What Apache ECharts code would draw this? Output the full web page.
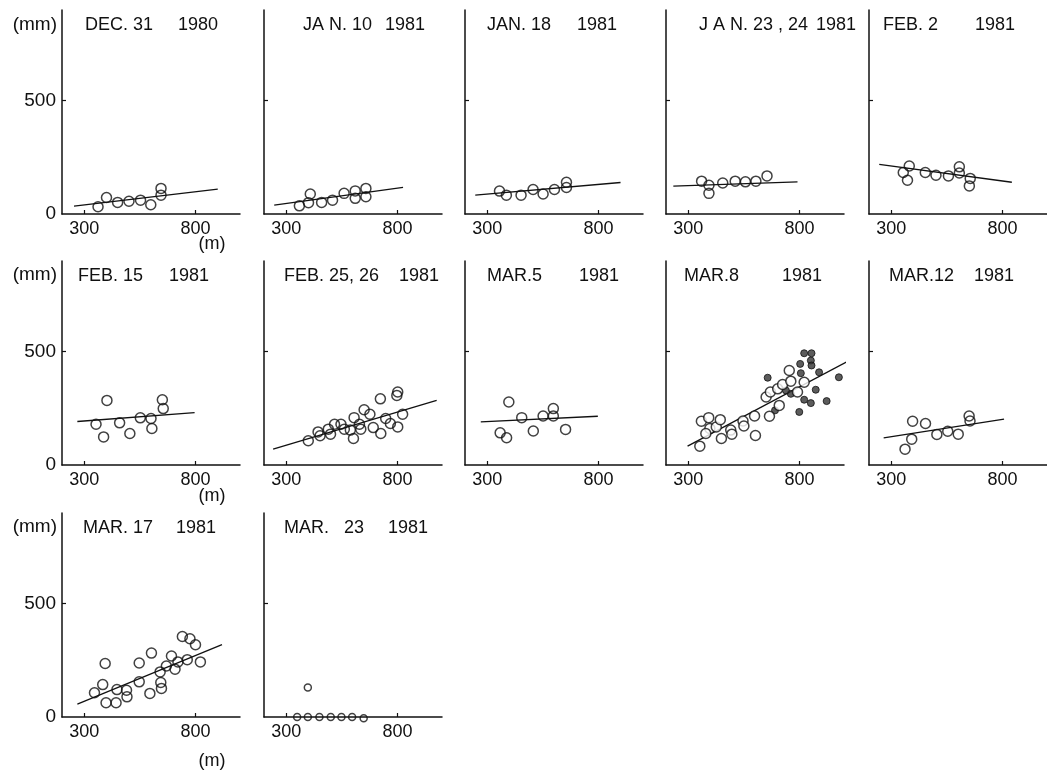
<!DOCTYPE html>
<html>
<head>
<meta charset="utf-8">
<script src="https://cdn.jsdelivr.net/npm/echarts@6/dist/echarts.min.js"></script>
<style>
  html, body { margin: 0; padding: 0; background: #fff; }
  #chart { width: 1047px; height: 771px; }
</style>
</head>
<body>
<div id="chart"></div>
<script>
// Snow depth (mm) against altitude (m), one panel per survey date.
const panelDates = ['DEC. 31', 'JA N. 10', 'JAN. 18', 'J A N. 23 , 24', 'FEB. 2',
                    'FEB. 15', 'FEB. 25, 26', 'MAR.5', 'MAR.8', 'MAR.12',
                    'MAR. 17', 'MAR.   23'];
const panelYears = ['1980', '1981', '1981', '1981', '1981',
                    '1981', '1981', '1981', '1981', '1981',
                    '1981', '1981'];
const xTickValues = [300, 800];
const yTickValues = [0, 500];
const yTickMarks = [500];

// observations: [altitude m, depth mm]
const obsDec31 = [[362,32],[400,73],[450,51],[501,56],[553,61],[599,41],[645,83],[645,113]];
const obsJan10 = [[359,36],[400,50],[408,88],[459,51],[508,61],[560,91],[610,69],[610,102],[658,76],[658,113]];
const obsJan18 = [[355,101],[386,83],[452,83],[506,108],[551,88],[602,108],[656,117],[656,140]];
const obsJan23 = [[360,145],[393,127],[393,91],[455,137],[511,145],[557,142],[604,145],[654,168]];
const obsFeb2  = [[354,183],[381,212],[373,149],[453,183],[501,171],[557,168],[606,208],[606,181],[655,157],[651,124]];
const obsFeb15 = [[353,180],[402,285],[387,124],[459,186],[505,139],[552,208],[600,205],[604,161],[651,288],[655,249]];
const obsFeb25 = [[399,107],[443,146],[452,129],[489,158],[499,136],[517,180],[546,180],[561,158],[588,154],
                  [602,117],[605,209],[629,180],[635,158],[650,244],[676,224],[691,165],[723,292],[725,139],
                  [747,205],[768,183],[797,307],[801,322],[801,168],[823,224]];
const obsMar5  = [[397,278],[358,142],[387,120],[455,209],[507,150],[551,216],[597,249],[597,216],[652,157]];
const obsMar8  = [[352,83],[359,193],[392,209],[397,161],[379,139],[426,168],[444,200],[449,117],[491,154],
                  [496,136],[546,194],[550,172],[598,216],[602,130],[650,300],[665,215],[669,322],[709,263],
                  [702,336],[724,355],[754,417],[761,370],[791,322],[821,365]];
const obsMar8Dark = [[657,385],[690,241],[803,446],[821,493],[854,493],[851,461],[854,439],[888,409],[806,405],
                     [873,332],[851,273],[799,234],[922,282],[977,387],[761,314],[821,288],[739,329]];
const obsMar12 = [[362,70],[392,114],[396,193],[454,183],[505,135],[554,149],[601,136],[650,216],[654,194]];
const obsMar17 = [[346,107],[383,143],[394,236],[398,63],[443,63],[447,121],[490,118],[492,89],[547,155],
                  [547,238],[595,104],[602,282],[641,199],[644,152],[647,126],[669,225],[692,269],[708,211],
                  [721,243],[741,355],[763,253],[775,345],[800,319],[822,243]];
const obsMar23 = [[397,130],[349,0],[397,0],[449,0],[500,0],[548,0],[596,0],[648,-5]];

// fitted regression lines: end points [altitude m, depth mm]
const fitDec31 = [[254,35],[900,110]];
const fitJan10 = [[246,39],[825,117]];
const fitJan18 = [[246,83],[899,139]];
const fitJan23 = [[233,123],[791,142]];
const fitFeb2  = [[246,219],[842,140]];
const fitFeb15 = [[269,192],[796,231]];
const fitFeb25 = [[241,70],[976,285]];
const fitMar5  = [[271,190],[797,215]];
const fitMar8  = [[297,83],[1056,478]];
const fitMar12 = [[266,120],[807,202]];
const fitMar17 = [[269,57],[919,319]];

const panels = [
  { obs: obsDec31, fit: fitDec31 }, { obs: obsJan10, fit: fitJan10 }, { obs: obsJan18, fit: fitJan18 },
  { obs: obsJan23, fit: fitJan23 }, { obs: obsFeb2, fit: fitFeb2 },
  { obs: obsFeb15, fit: fitFeb15 }, { obs: obsFeb25, fit: fitFeb25 }, { obs: obsMar5, fit: fitMar5 },
  { obs: obsMar8, dark: obsMar8Dark, fit: fitMar8 }, { obs: obsMar12, fit: fitMar12 },
  { obs: obsMar17, fit: fitMar17 }, { obs: obsMar23, small: true }
];

// layout
const colLeft = [62, 264, 465, 666, 869];
const rowTop = [10, 261, 513];
const PW = 178, PH = 204;
const titleStart = [23, 39, 22, 33, 14, 16, 20, 22, 18, 20, 21, 20];
const titleEnd = [156, 161, 152, 190, 146, 147, 175, 154, 156, 145, 154, 164];
const ink = '#111';
const numFont = '"Liberation Sans", "DejaVu Sans", sans-serif';
const textFont = '"Liberation Sans", "DejaVu Sans", sans-serif';

const grid = [], xAxis = [], yAxis = [], series = [], graphic = [];

panels.forEach((p, i) => {
  const r = Math.floor(i / 5), c = i % 5;
  const left = colLeft[c], top = rowTop[r];
  grid.push({ left, top, width: PW, height: PH });
  xAxis.push({
    gridIndex: i, type: 'value', min: 200, max: 1000,
    axisLine: { lineStyle: { color: ink, width: 1.5 } },
    axisTick: { inside: true, length: 4, customValues: xTickValues, lineStyle: { color: ink, width: 1.2 } },
    axisLabel: { customValues: xTickValues, margin: 6, color: ink, fontSize: 18, fontFamily: numFont },
    splitLine: { show: false }
  });
  yAxis.push({
    gridIndex: i, type: 'value', min: 0, max: 900,
    axisLine: { show: true, lineStyle: { color: ink, width: 1.5 } },
    axisTick: { show: true, inside: true, length: 4, customValues: yTickMarks, lineStyle: { color: ink, width: 1.2 } },
    axisLabel: { show: c === 0, customValues: yTickValues, margin: 6, color: ink, fontSize: 19, fontFamily: numFont },
    splitLine: { show: false }
  });
  if (p.fit) {
    series.push({
      type: 'line', xAxisIndex: i, yAxisIndex: i, data: p.fit, symbol: 'none', clip: false,
      lineStyle: { color: ink, width: 1.3 }, silent: true, z: 2
    });
  }
  if (p.dark) {
    series.push({
      type: 'scatter', xAxisIndex: i, yAxisIndex: i, data: p.dark, symbol: 'circle', symbolSize: 7, clip: false,
      itemStyle: { color: '#333', borderColor: ink, borderWidth: 1 }, silent: true, z: 3
    });
  }
  series.push({
    type: 'scatter', xAxisIndex: i, yAxisIndex: i, data: p.obs, symbol: 'circle',
    symbolSize: p.small ? 7 : 10, clip: false,
    itemStyle: { color: p.dark ? '#fff' : 'rgba(255,255,255,0)', borderColor: ink, borderWidth: 1.5 },
    silent: true, z: 4
  });
  // panel heading: date on the left, year on the right
  graphic.push({
    type: 'text', x: left + titleStart[i], y: top + 15,
    style: { text: panelDates[i], fill: ink, fontSize: 18, fontFamily: textFont, textAlign: 'left', textVerticalAlign: 'middle' }
  });
  graphic.push({
    type: 'text', x: left + titleEnd[i], y: top + 15,
    style: { text: panelYears[i], fill: ink, fontSize: 18, fontFamily: textFont, textAlign: 'right', textVerticalAlign: 'middle' }
  });
});

// unit labels on the first panel of each row
const mmLabelY = [25, 275, 527];
const mLabelY = [244, 496, 761];
mmLabelY.forEach((y, r) => {
  graphic.push({
    type: 'text', x: 57, y,
    style: { text: '(mm)', fill: ink, fontSize: 19, fontFamily: textFont, textAlign: 'right', textVerticalAlign: 'middle' }
  });
  graphic.push({
    type: 'text', x: 212, y: mLabelY[r],
    style: { text: '(m)', fill: ink, fontSize: 18, fontFamily: textFont, textAlign: 'center', textVerticalAlign: 'middle' }
  });
});

const chart = echarts.init(document.getElementById('chart'), null, { renderer: 'canvas' });
chart.setOption({
  animation: false,
  backgroundColor: '#fff',
  grid, xAxis, yAxis, series, graphic
});
</script>
</body>
</html>
